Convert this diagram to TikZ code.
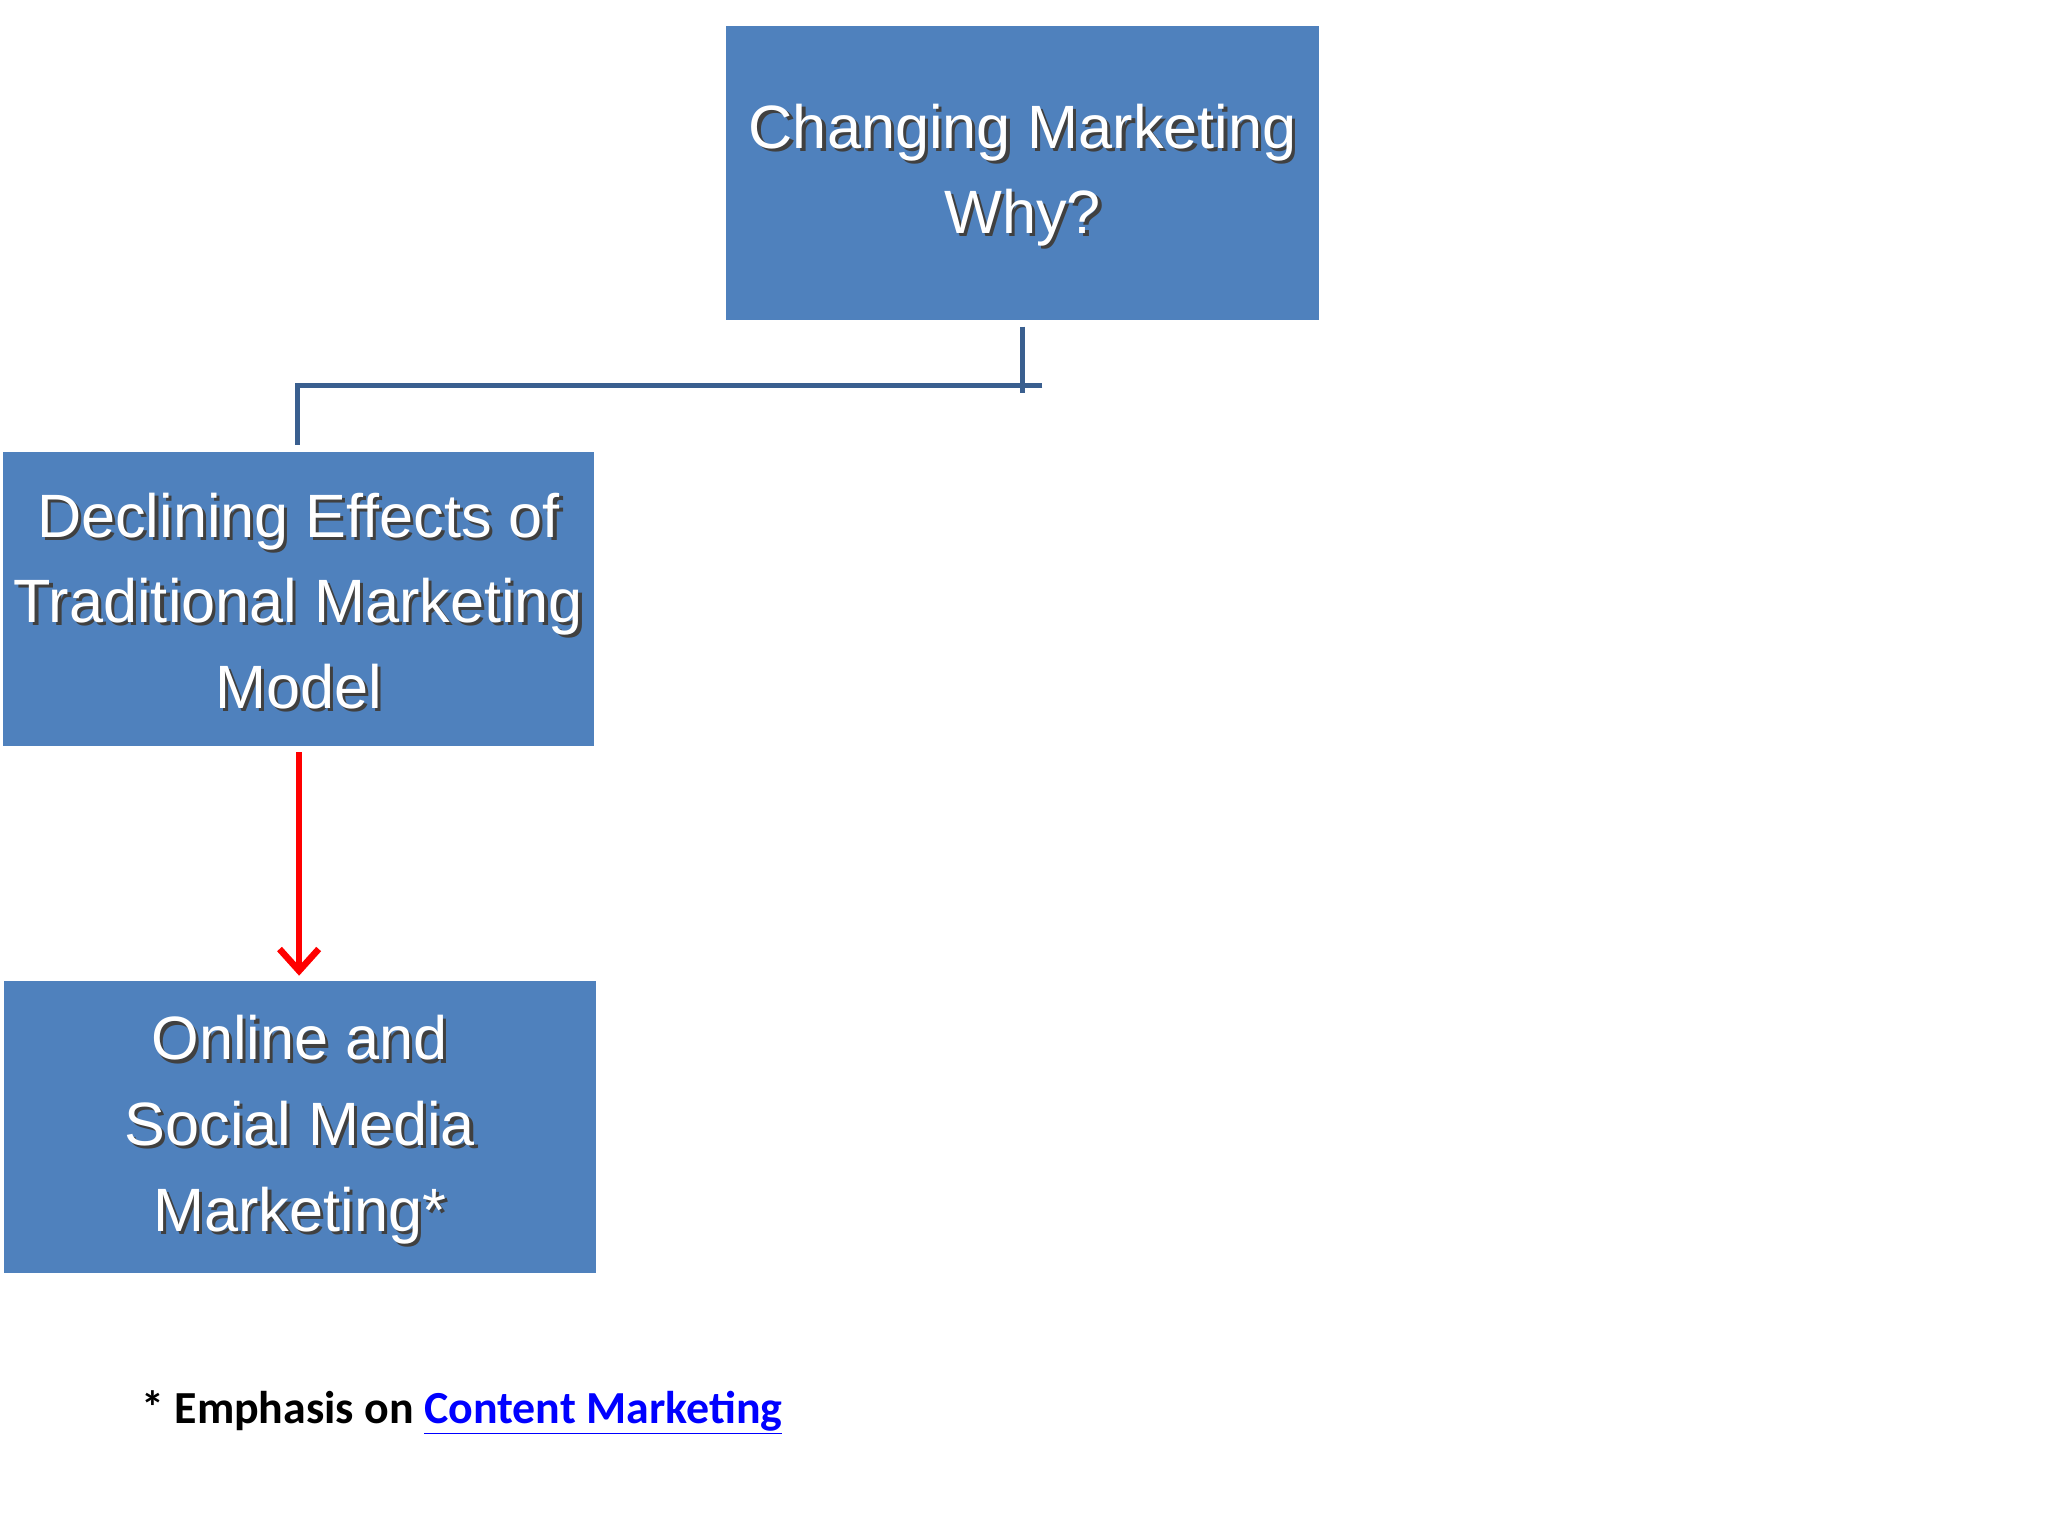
\documentclass[tikz,border=0pt]{standalone}
\usepackage{fontspec}
\setmainfont{Liberation Sans}
\newfontfamily\calib{Carlito}
\usetikzlibrary{arrows.meta,calc}
\definecolor{boxblue}{HTML}{4F81BD}
\definecolor{linkblue}{HTML}{3A5F8F}
\begin{document}
\begin{tikzpicture}[x=0.03cm,y=-0.03cm,
  box/.style={fill=boxblue,draw=none},
  lbl/.style={text=white,align=center,font=\fontsize{40}{56}\selectfont},
  shd/.style={text=black!75,align=center,font=\fontsize{40}{56}\selectfont},
  conn/.style={draw=linkblue,line width=0.12cm}]
\useasboundingbox (0,0) rectangle (1568,1176);
\fill[white] (0,0) rectangle (1568,1176);
\path[box] (556,20) rectangle (1010,245);
\path[box] (2,346) rectangle (455,571);
\path[box] (3,751) rectangle (456,975);
\coordinate (topc) at (783,134);
\coordinate (m1c) at (228.5,460);
\coordinate (m2c) at (229.5,865);
\node[shd] at ($(topc)+(2.5,2.5)$) {Changing Marketing\\Why?};
\node[lbl] (top) at (topc) {Changing Marketing\\Why?};
\node[shd] at ($(m1c)+(2.5,2.5)$) {Declining Effects of\\Traditional Marketing\\Model};
\node[lbl] (m1) at (m1c) {Declining Effects of\\Traditional Marketing\\Model};
\node[shd] at ($(m2c)+(2.5,2.5)$) {Online and\\Social Media\\Marketing*};
\node[lbl] (m2) at (m2c) {Online and\\Social Media\\Marketing*};
\coordinate (a1) at (783,250);
\coordinate (a2) at (783,301);
\coordinate (h1) at (798,295);
\coordinate (h2) at (228,295);
\coordinate (h3) at (228,341);
\draw[conn] (a1) -- (a2);
\draw[conn] (h1) -- (h2) -- (h3);
\coordinate (r1) at (229,576);
\coordinate (r2) at (229,747);
\draw[red,line width=0.15cm,-{Straight Barb[length=0.5cm,width=0.9cm,line width=0.15cm]}] (r1) -- (r2);
\node[anchor=base west,inner sep=0,font=\calib\bfseries\fontsize{30}{36}\selectfont] (foot) at (108,1090)
  {* Emphasis on \textcolor{blue}{\underline{Content Marketing}}};
\end{tikzpicture}
\end{document}
